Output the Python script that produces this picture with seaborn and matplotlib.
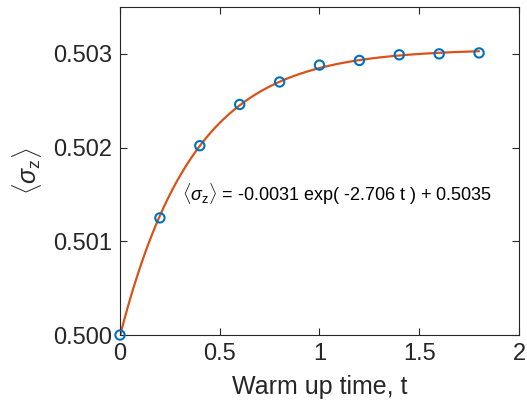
import numpy as np
import pandas as pd
import matplotlib
matplotlib.use("Agg")
import matplotlib.pyplot as plt
import seaborn as sns

t_vals = [0.0, 0.2, 0.4, 0.6, 0.8, 1.0, 1.2, 1.4, 1.6, 1.8]
sz_vals = [0.50000, 0.50125, 0.50202, 0.50246, 0.50270,
           0.50288, 0.50293, 0.50299, 0.50300, 0.50301]

x_ticks = [0, 0.5, 1, 1.5, 2]
x_tick_labels = ["0", "0.5", "1", "1.5", "2"]
y_ticks = [0.500, 0.501, 0.502, 0.503]
y_tick_labels = ["0.500", "0.501", "0.502", "0.503"]

fit_label = r"$\langle\sigma_{\rm z}\rangle$ = -0.0031 exp( -2.706 t ) + 0.5035"

sns.set_theme(style="ticks")
plt.rcParams["font.family"] = ["Liberation Sans", "DejaVu Sans"]
plt.rcParams["mathtext.fontset"] = "custom"
plt.rcParams["mathtext.rm"] = "Liberation Sans"
plt.rcParams["mathtext.it"] = "Liberation Sans:italic"

df = pd.DataFrame({"t": t_vals, "sz": sz_vals})

# exponential fit  y = a*exp(-k t) + c  (grid over k, least squares for a, c)
t = np.array(t_vals)
y = np.array(sz_vals)
best = None
for k in np.linspace(0.5, 6, 2201):
    A = np.column_stack([np.exp(-k * t), np.ones_like(t)])
    coef, res, _, _ = np.linalg.lstsq(A, y, rcond=None)
    err = np.sum((A @ coef - y) ** 2)
    if best is None or err < best[0]:
        best = (err, k, coef)
_, k_fit, (a_fit, c_fit) = best
t_dense = np.linspace(0, 1.8, 200)
fit_df = pd.DataFrame({"t": t_dense, "sz": a_fit * np.exp(-k_fit * t_dense) + c_fit})

fig = plt.figure(figsize=(5.27, 4.05), dpi=100)
ax = fig.add_axes([0.2277, 0.1728, 0.7571, 0.8099])

sns.lineplot(data=fit_df, x="t", y="sz", ax=ax, color="#D95319", linewidth=1.6)
sns.scatterplot(data=df, x="t", y="sz", ax=ax, marker="o", s=45,
                facecolor="none", edgecolor="#0072BD", linewidth=1.5,
                zorder=3, clip_on=False)

ax.text(0.31, 0.5015, fit_label, fontsize=13, color="black", va="center")

ax.set_xlim(0, 2)
ax.set_ylim(0.5, 0.5035)
ax.set_xticks(x_ticks)
ax.set_xticklabels(x_tick_labels)
ax.set_yticks(y_ticks)
ax.set_yticklabels(y_tick_labels)
ax.tick_params(direction="in", length=5, width=0.8, colors="#262626",
               labelsize=17, top=True, right=True, pad=6)
for sp in ax.spines.values():
    sp.set_visible(True)
    sp.set_color("#262626")
    sp.set_linewidth(0.8)

ax.set_xlabel("Warm up time, t", fontsize=18, color="#262626", labelpad=7)
ax.set_ylabel(r"$\langle\sigma_{\rm z}\rangle$", fontsize=18, color="#262626", labelpad=6)

fig.savefig("out.png", dpi=100)
